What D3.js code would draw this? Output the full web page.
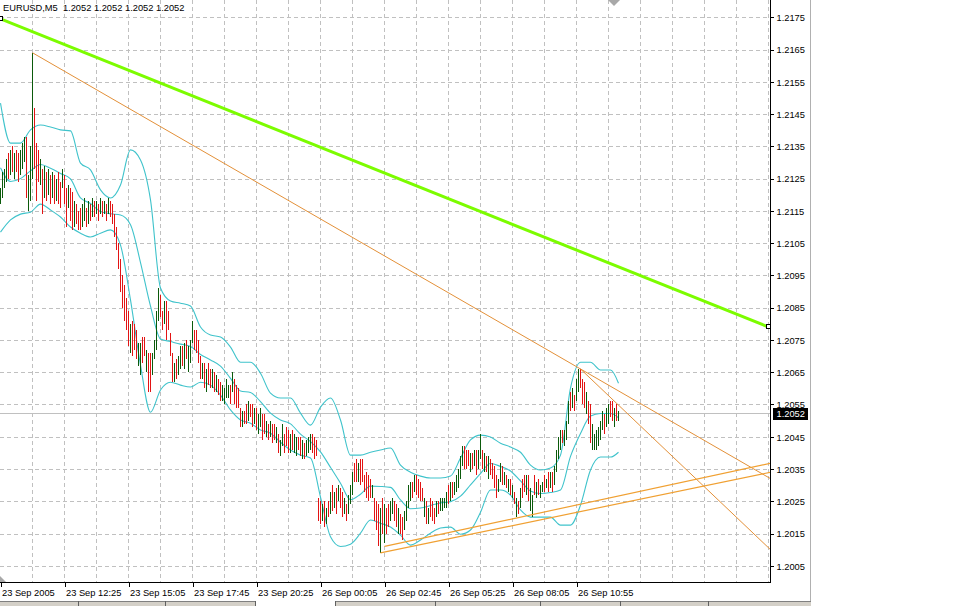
<!DOCTYPE html>
<html><head><meta charset="utf-8">
<script src="https://cdn.jsdelivr.net/npm/d3@7"></script>
<style>
html,body{margin:0;padding:0;background:#fff;}
svg{display:block;font-family:"Liberation Sans",Arial,sans-serif;}
</style></head><body>
<svg id="chart" width="961" height="606"></svg>
<script>
const symbolTitle = "EURUSD,M5  1.2052 1.2052 1.2052 1.2052";
const lastPrice = 1.2052;
const priceTicks = [1.2005,1.2015,1.2025,1.2035,1.2045,1.2055,1.2065,1.2075,1.2085,1.2095,1.2105,1.2115,1.2125,1.2135,1.2145,1.2155,1.2165,1.2175];
const timeTickBars = [0,32,64,96,128,160,192,224,256,288];
const timeTickLabels = ["23 Sep 2005","23 Sep 12:25","23 Sep 15:05","23 Sep 17:45","23 Sep 20:25","26 Sep 00:05","26 Sep 02:45","26 Sep 05:25","26 Sep 08:05","26 Sep 10:55"];

const barHigh = [
1.2122,1.2127,1.2128,1.2131,1.2133,1.2134,1.2135,1.2133,1.2134,1.2133,
1.2134,1.2136,1.2138,1.2138,1.2126,1.2135,1.2164,1.2147,1.2136,1.2134,
1.2131,1.2128,1.2129,1.2127,1.2128,1.2126,1.2127,1.2126,1.2125,1.2127,
1.2124,1.2128,1.2126,1.2122,1.2123,1.2122,1.2121,1.2118,1.2117,1.2115,
1.2116,1.2117,1.2119,1.2116,1.2118,1.2117,1.2119,1.2118,1.2118,1.2117,
1.2119,1.2118,1.2118,1.2117,1.2119,1.2118,1.2117,1.2114,1.2110,1.2105,
1.2100,1.2095,1.2092,1.2088,1.2084,1.2080,1.2081,1.2080,1.2078,1.2074,
1.2074,1.2076,1.2076,1.2072,1.2071,1.2071,1.2071,1.2075,1.2084,1.2091,
1.2089,1.2084,1.2087,1.2087,1.2084,1.2077,1.2071,1.2068,1.2069,1.2070,
1.2073,1.2073,1.2074,1.2075,1.2073,1.2075,1.2081,1.2078,1.2078,1.2075,
1.2070,1.2068,1.2068,1.2066,1.2068,1.2066,1.2066,1.2065,1.2064,1.2063,
1.2062,1.2061,1.2060,1.2063,1.2061,1.2061,1.2065,1.2063,1.2061,1.2060,
1.2054,1.2053,1.2053,1.2055,1.2056,1.2055,1.2055,1.2054,1.2054,1.2052,
1.2054,1.2052,1.2052,1.2050,1.2049,1.2050,1.2049,1.2049,1.2048,1.2046,
1.2044,1.2049,1.2046,1.2048,1.2047,1.2046,1.2047,1.2046,1.2045,1.2045,
1.2045,1.2044,1.2043,1.2044,1.2045,1.2046,1.2046,1.2045,1.2044,1.2026,
1.2025,1.2024,1.2025,1.2023,1.2025,1.2028,1.2030,1.2028,1.2029,1.2030,
1.2029,1.2028,1.2026,1.2024,1.2027,1.2030,1.2034,1.2037,1.2038,1.2037,
1.2038,1.2038,1.2033,1.2034,1.2033,1.2032,1.2030,1.2026,1.2025,1.2024,
1.2023,1.2026,1.2024,1.2023,1.2024,1.2025,1.2026,1.2025,1.2024,1.2023,
1.2021,1.2020,1.2022,1.2025,1.2030,1.2031,1.2031,1.2033,1.2033,1.2032,
1.2031,1.2029,1.2026,1.2025,1.2023,1.2026,1.2025,1.2023,1.2025,1.2025,
1.2026,1.2026,1.2026,1.2028,1.2030,1.2031,1.2031,1.2031,1.2033,1.2035,
1.2039,1.2042,1.2042,1.2041,1.2041,1.2040,1.2040,1.2041,1.2041,1.2041,
1.2046,1.2041,1.2040,1.2039,1.2039,1.2038,1.2037,1.2036,1.2033,1.2032,
1.2037,1.2036,1.2034,1.2033,1.2032,1.2032,1.2030,1.2028,1.2026,1.2025,
1.2029,1.2032,1.2033,1.2033,1.2033,1.2029,1.2027,1.2033,1.2031,1.2032,
1.2030,1.2031,1.2033,1.2032,1.2034,1.2034,1.2034,1.2036,1.2041,1.2045,
1.2047,1.2047,1.2047,1.2050,1.2056,1.2059,1.2060,1.2058,1.2063,1.2066,
1.2066,1.2063,1.2062,1.2059,1.2056,1.2055,1.2049,1.2046,1.2047,1.2048,
1.2050,1.2053,1.2052,1.2054,1.2055,1.2056,1.2056,1.2054,1.2055,1.2053];

const barLow = [
1.2117,1.2119,1.2122,1.2124,1.2125,1.2126,1.2127,1.2125,1.2127,1.2124,
1.2126,1.2128,1.2130,1.2119,1.2115,1.2118,1.2125,1.2128,1.2118,1.2124,
1.2123,1.2114,1.2119,1.2118,1.2120,1.2117,1.2119,1.2117,1.2118,1.2117,
1.2116,1.2122,1.2117,1.2110,1.2116,1.2112,1.2109,1.2110,1.2111,1.2109,
1.2109,1.2110,1.2112,1.2110,1.2111,1.2112,1.2113,1.2113,1.2114,1.2112,
1.2114,1.2113,1.2114,1.2112,1.2114,1.2113,1.2111,1.2107,1.2103,1.2097,
1.2090,1.2085,1.2081,1.2078,1.2073,1.2071,1.2070,1.2072,1.2069,1.2067,
1.2064,1.2068,1.2070,1.2065,1.2059,1.2059,1.2064,1.2069,1.2072,1.2081,
1.2082,1.2078,1.2080,1.2075,1.2078,1.2070,1.2062,1.2062,1.2063,1.2064,
1.2066,1.2067,1.2066,1.2069,1.2065,1.2068,1.2074,1.2072,1.2071,1.2068,
1.2063,1.2063,1.2060,1.2059,1.2061,1.2060,1.2060,1.2059,1.2059,1.2058,
1.2056,1.2056,1.2055,1.2057,1.2057,1.2055,1.2059,1.2055,1.2054,1.2054,
1.2048,1.2048,1.2049,1.2049,1.2050,1.2051,1.2048,1.2049,1.2047,1.2046,
1.2048,1.2044,1.2046,1.2045,1.2044,1.2045,1.2043,1.2044,1.2043,1.2040,
1.2039,1.2042,1.2040,1.2042,1.2040,1.2040,1.2041,1.2040,1.2039,1.2041,
1.2039,1.2038,1.2038,1.2039,1.2040,1.2041,1.2040,1.2038,1.2039,1.2019,
1.2018,1.2019,1.2017,1.2018,1.2020,1.2021,1.2022,1.2023,1.2021,1.2025,
1.2023,1.2020,1.2021,1.2019,1.2021,1.2024,1.2027,1.2031,1.2031,1.2031,
1.2030,1.2031,1.2028,1.2026,1.2025,1.2026,1.2026,1.2019,1.2016,1.2011,
1.2009,1.2015,1.2012,1.2015,1.2017,1.2019,1.2021,1.2019,1.2017,1.2015,
1.2015,1.2013,1.2016,1.2019,1.2023,1.2025,1.2026,1.2028,1.2027,1.2026,
1.2025,1.2025,1.2020,1.2018,1.2018,1.2020,1.2019,1.2018,1.2020,1.2021,
1.2022,1.2022,1.2023,1.2023,1.2024,1.2025,1.2026,1.2027,1.2028,1.2029,
1.2032,1.2036,1.2035,1.2035,1.2036,1.2034,1.2035,1.2036,1.2033,1.2035,
1.2038,1.2035,1.2034,1.2034,1.2032,1.2033,1.2032,1.2029,1.2026,1.2028,
1.2031,1.2030,1.2030,1.2029,1.2028,1.2027,1.2026,1.2024,1.2020,1.2021,
1.2023,1.2026,1.2028,1.2027,1.2025,1.2022,1.2020,1.2027,1.2026,1.2027,
1.2026,1.2028,1.2028,1.2029,1.2028,1.2029,1.2028,1.2030,1.2034,1.2038,
1.2041,1.2043,1.2042,1.2044,1.2049,1.2053,1.2054,1.2053,1.2056,1.2059,
1.2060,1.2055,1.2054,1.2052,1.2049,1.2043,1.2041,1.2041,1.2041,1.2042,
1.2044,1.2047,1.2046,1.2048,1.2049,1.2051,1.2050,1.2048,1.2050,1.2050];

// u = bullish bar (close above open), d = bearish bar
const barDir = [
"uuuudududd","uuuduuuddd","ududududud","dudduddudd","duudududud",
"udududdddd","dddddudddu","uddudduuuu","dduddddudu","ududuuuddd",
"dududdudud","duuuududdd","dudduddudu","uddududdud","uuddduduud",
"duduuudddd","dududududu","dduduuuddu","dddddduddd","ududduuddu",
"dduuuududd","ddududddud","uuuududuuu","uudddududu","udududdddu",
"ududududud","udduduudud","uudududuuu","uduuududuu","dddudduuuu",
"uuduuddudu"].join("");

const bandBars = [0,5,10,15,20,25,30,35,40,45,50,55,60,65,70,75,80,85,90,95,100,105,110,115,120,125,130,135,140,145,150,155,160,165,170,175,180,185,190,195,200,205,210,215,220,225,230,235,240,245,250,255,260,265,270,275,280,285,290,295,300,305,309];
const bandUpper = [
1.21484,1.21360,1.21360,1.21401,1.21416,1.21410,1.21401,1.21398,1.21298,1.21277,
1.21215,1.21190,1.21230,1.21339,1.21308,1.21184,1.20911,1.20871,1.20864,1.20855,
1.20790,1.20765,1.20759,1.20728,1.20681,1.20681,1.20647,1.20585,1.20570,1.20570,
1.20523,1.20486,1.20542,1.20570,1.20502,1.20393,1.20393,1.20402,1.20409,1.20415,
1.20362,1.20340,1.20328,1.20322,1.20322,1.20328,1.20384,1.20440,1.20455,1.20449,
1.20430,1.20418,1.20402,1.20362,1.20347,1.20353,1.20393,1.20601,1.20681,1.20681,
1.20657,1.20657,1.20616];
const bandMiddle = [
1.21284,1.21241,1.21250,1.21274,1.21294,1.21282,1.21266,1.21249,1.21190,1.21173,
1.21148,1.21141,1.21137,1.21107,1.20990,1.20855,1.20753,1.20745,1.20737,1.20730,
1.20705,1.20688,1.20669,1.20631,1.20592,1.20587,1.20559,1.20523,1.20502,1.20490,
1.20458,1.20435,1.20403,1.20355,1.20306,1.20255,1.20272,1.20297,1.20296,1.20293,
1.20254,1.20227,1.20229,1.20237,1.20245,1.20249,1.20266,1.20301,1.20336,1.20367,
1.20358,1.20344,1.20313,1.20282,1.20274,1.20277,1.20285,1.20389,1.20460,1.20514,
1.20522,1.20522,1.20509];
const bandLower = [
1.21084,1.21122,1.21140,1.21146,1.21171,1.21153,1.21131,1.21100,1.21081,1.21069,
1.21081,1.21091,1.21044,1.20874,1.20672,1.20526,1.20595,1.20619,1.20610,1.20604,
1.20619,1.20610,1.20579,1.20533,1.20502,1.20492,1.20471,1.20461,1.20433,1.20409,
1.20393,1.20384,1.20263,1.20140,1.20110,1.20117,1.20151,1.20192,1.20182,1.20170,
1.20145,1.20114,1.20130,1.20151,1.20167,1.20170,1.20148,1.20161,1.20216,1.20285,
1.20285,1.20269,1.20223,1.20201,1.20201,1.20201,1.20176,1.20176,1.20238,1.20347,
1.20387,1.20387,1.20402];

// trend lines: anchor points (bar index, price)
const trendFromBar   = [0, 16, 290, 192, 190];
const trendFromPrice = [1.21745, 1.2164, 1.2066, 1.2011, 1.2009];
const trendToBar     = [384, 290, 385, 385, 385];
const trendToPrice   = [1.2079, 1.2066, 1.2010, 1.20368, 1.2034];
const trendExtendRight = [false, true, false, false, false];

// ---------- drawing ----------
const svg = d3.select("#chart");
const plotW = 770, plotH = 582;
const x = d3.scaleLinear().domain([0, 385]).range([0.5, 770.5]);
const y = d3.scaleLinear().domain([1.2005, 1.2175]).range([565.8, 17.3]);
const FONT = 9.3;

svg.append("rect").attr("width",961).attr("height",606).attr("fill","#fff");
svg.append("defs").append("clipPath").attr("id","plot")
  .append("rect").attr("x",0).attr("y",0).attr("width",plotW).attr("height",plotH);

const plot = svg.append("g").attr("clip-path","url(#plot)");

// grid
const grid = plot.append("g").attr("stroke","#c0c0c0").attr("stroke-dasharray","4,3").attr("shape-rendering","crispEdges");
priceTicks.forEach(p => {
  const yy = Math.round(y(p)) + 0.5;
  grid.append("line").attr("x1",0).attr("x2",plotW).attr("y1",yy).attr("y2",yy);
});
d3.range(16, 385, 16).forEach(b => {
  const xx = Math.floor(x(b)) + 0.5;
  grid.append("line").attr("x1",xx).attr("x2",xx).attr("y1",0).attr("y2",plotH);
});

// last price line
const yLast = Math.round(y(lastPrice)) - 0.5;
plot.append("line").attr("x1",0).attr("x2",plotW).attr("y1",yLast).attr("y2",yLast)
  .attr("stroke","#c0c0c0").attr("shape-rendering","crispEdges");

// Bollinger bands
const bandLine = d3.line().x(d => x(d[0])).y(d => y(d[1])).curve(d3.curveMonotoneX);
[bandUpper, bandMiddle, bandLower].forEach(arr => {
  plot.append("path").datum(bandBars.map((b,i) => [b, arr[i]]))
    .attr("d", bandLine).attr("fill","none").attr("stroke","#3fc3cb").attr("stroke-width",1.1);
});

// bars
plot.append("g").attr("shape-rendering","crispEdges").selectAll("line")
  .data(barHigh.map((h,i) => ({i, h, l: barLow[i], up: barDir[i] === "u"})))
  .join("line")
  .attr("x1", d => Math.floor(x(d.i)) + 0.5).attr("x2", d => Math.floor(x(d.i)) + 0.5)
  .attr("y1", d => y(d.h)).attr("y2", d => y(d.l))
  .attr("stroke", d => d.up ? "#0b5a0b" : "#e31414").attr("stroke-width", 1);

// trend lines
const trendColor = ["#7cfc00", "#e39038", "#e39038", "#f0a032", "#f0a032"];
const trendWidth = [3, 1, 1, 1.2, 1.2];
trendFromBar.forEach((b0, k) => {
  let b1 = trendToBar[k], p1 = trendToPrice[k];
  const p0 = trendFromPrice[k];
  if (trendExtendRight[k]) {
    const slope = (p1 - p0) / (b1 - b0);
    p1 = p0 + slope * (385 - b0); b1 = 385;
  }
  plot.append("line").attr("x1", x(b0)).attr("y1", y(p0)).attr("x2", x(b1)).attr("y2", y(p1))
    .attr("stroke", trendColor[k]).attr("stroke-width", trendWidth[k]);
});
// selection markers on the green line
[[trendFromBar[0], trendFromPrice[0]], [trendToBar[0], trendToPrice[0]]].forEach(([b,p]) => {
  svg.append("rect").attr("x", Math.round(x(b)) - 2.5).attr("y", Math.round(y(p)) - 2.5)
    .attr("width",4).attr("height",4).attr("fill","#fff").attr("stroke","#000").attr("stroke-width",1);
});

// markers (chart shift triangle etc.)
svg.append("polygon").attr("points","608,0 620,0 614,6").attr("fill","#a8a8a8");
svg.append("polygon").attr("points","0,576 0,582 6,582").attr("fill","#a8a8a8");

// title
svg.append("text").attr("x",3).attr("y",11).attr("font-size",FONT).attr("fill","#000")
  .style("white-space","pre").text(symbolTitle);

// right price axis
const yAxis = d3.axisRight(y).tickValues(priceTicks).tickSize(3).tickFormat(d3.format(".4f"));
const ya = svg.append("g").attr("transform","translate(770.5,0)").call(yAxis);
ya.select(".domain").remove();
ya.selectAll(".tick line").attr("stroke","#000").attr("shape-rendering","crispEdges");
ya.selectAll(".tick text").attr("x",6).attr("dy",null).attr("y",3.3)
  .attr("font-size",FONT).attr("font-family","Liberation Sans, Arial, sans-serif").attr("fill","#000");
svg.append("line").attr("x1",770.5).attr("x2",770.5).attr("y1",0).attr("y2",583)
  .attr("stroke","#000").attr("shape-rendering","crispEdges");

// last price label
svg.append("rect").attr("x",773).attr("y",Math.round(y(lastPrice)) - 6).attr("width",35).attr("height",12).attr("fill","#000");
svg.append("text").attr("x",776.5).attr("y",y(lastPrice) + 3.3).attr("font-size",FONT).attr("fill","#fff")
  .text(d3.format(".4f")(lastPrice));

// bottom time axis
const xAxis = d3.axisBottom(x).tickValues(timeTickBars).tickSize(4).tickFormat((d,i) => timeTickLabels[i]);
const xa = svg.append("g").attr("transform","translate(0,582.5)").call(xAxis);
xa.select(".domain").remove();
xa.selectAll(".tick line").attr("stroke","#000").attr("shape-rendering","crispEdges");
xa.selectAll(".tick text").attr("text-anchor","start").attr("x",1).attr("y",13.5).attr("dy",null)
  .attr("font-size",FONT).attr("font-family","Liberation Sans, Arial, sans-serif").attr("fill","#000");
svg.append("line").attr("x1",0).attr("x2",771).attr("y1",582.5).attr("y2",582.5)
  .attr("stroke","#000").attr("shape-rendering","crispEdges");

// window frame pieces
svg.append("line").attr("x1",810.5).attr("x2",810.5).attr("y1",0).attr("y2",602)
  .attr("stroke","#b0b0b0").attr("shape-rendering","crispEdges");
const tabs = svg.append("g").attr("shape-rendering","crispEdges");
tabs.append("rect").attr("x",0).attr("y",601).attr("width",255).attr("height",5).attr("fill","#d4d0c8");
tabs.append("rect").attr("x",335).attr("y",601).attr("width",476).attr("height",5).attr("fill","#d4d0c8");
tabs.append("line").attr("x1",0).attr("x2",255).attr("y1",601.5).attr("y2",601.5).attr("stroke","#808080");
tabs.append("line").attr("x1",335).attr("x2",811).attr("y1",601.5).attr("y2",601.5).attr("stroke","#808080");
[78,165,255,335,435,540,620,708].forEach(xx => {
  tabs.append("line").attr("x1",xx+0.5).attr("x2",xx+0.5).attr("y1",601).attr("y2",606).attr("stroke","#606060");
});
</script>
</body></html>
